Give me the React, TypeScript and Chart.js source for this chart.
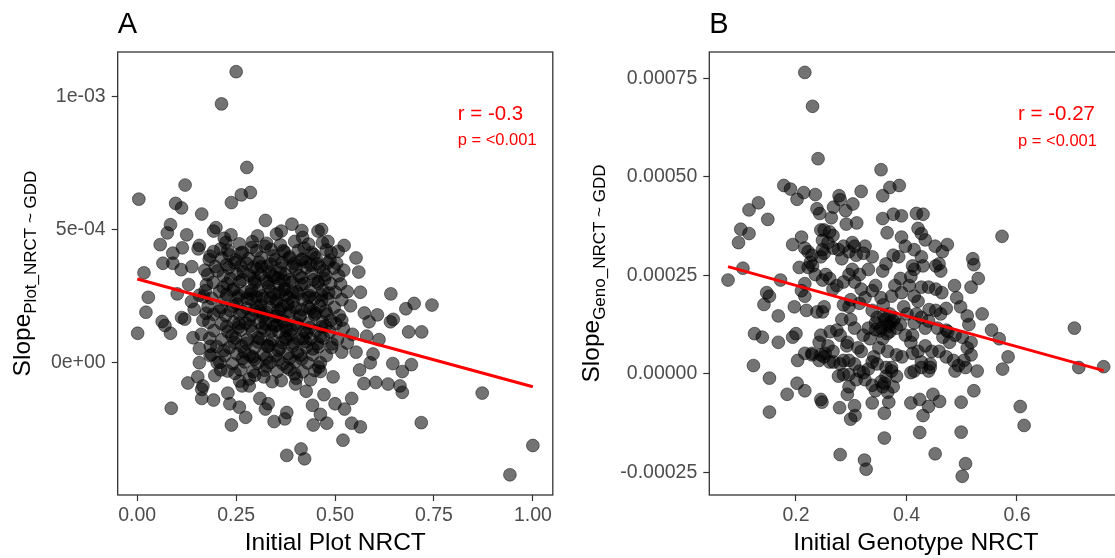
import React, { useEffect, useRef } from "react";
import { Chart, registerables } from "chart.js";
Chart.register(...registerables);

const FONT = '"Liberation Sans", Arial, Helvetica, sans-serif';
const Y_UNIT = 1e-4; // y values below are given in units of 1e-4

// ---------- Panel A : plot level (x = Initial Plot NRCT, y = slope x 1e4) ----------
const plotOuter: [number, number][] = [
  [0.250,10.94],[0.213,9.73],[0.277,7.34],[0.286,6.40],[0.263,6.31],[0.238,6.02],[0.004,6.15],[0.121,6.68],
  [0.097,5.99],[0.112,5.82],[0.163,5.59],[0.084,5.19],[0.076,4.88],[0.125,4.81],[0.199,5.08],[0.058,4.44],
  [0.114,4.32],[0.065,3.74],[0.090,4.12],[0.090,3.74],[0.111,3.50],[0.017,3.38],[0.028,2.46],[0.022,1.90],
  [0.001,1.11],[0.063,1.55],[0.070,1.40],[0.084,1.11],[0.101,2.59],[0.112,1.70],[0.120,1.64],[0.137,2.30],
  [0.141,0.94],[0.130,2.94],[0.138,3.61],[0.157,4.41],[0.154,4.28],[0.324,5.35],[0.364,4.95],[0.391,5.21],
  [0.416,4.97],[0.457,4.95],[0.466,5.01],[0.523,4.41],[0.553,3.94],[0.560,3.41],[0.564,2.65],[0.641,2.59],
  [0.700,2.23],[0.745,2.17],[0.679,2.03],[0.647,1.63],[0.640,1.54],[0.686,1.16],[0.719,1.16],[0.607,1.80],
  [0.586,1.54],[0.574,1.87],[0.611,0.87],[0.596,0.33],[0.646,-0.03],[0.670,-0.33],[0.693,-0.07],[0.664,-0.87],
  [0.670,-1.11],[0.634,-0.80],[0.603,-0.74],[0.573,-0.78],[0.562,-0.27],[0.872,-1.14],[0.718,-2.25],[1.000,-3.11],
  [0.942,-4.21],[0.564,-2.41],[0.542,-2.27],[0.520,-2.91],[0.542,-1.34],[0.524,-1.74],[0.500,-1.54],[0.479,-2.27],
  [0.463,-1.94],[0.445,-2.34],[0.443,-1.60],[0.423,-3.61],[0.414,-3.24],[0.378,-3.48],[0.373,-2.11],[0.378,-1.87],
  [0.346,-2.21],[0.324,-1.74],[0.331,-1.54],[0.310,-1.34],[0.274,-2.05],[0.258,-1.67],[0.238,-2.34],[0.234,-1.54],
  [0.229,-1.14],[0.193,-1.40],[0.163,-1.34],[0.163,-1.00],[0.153,-0.53],[0.128,-0.76],[0.166,-0.87],[0.086,-1.71],
  [0.157,0.00],[0.202,0.00],[0.265,-0.87],[0.283,-0.87],[0.297,-0.47],[0.320,-0.53],[0.364,-0.67],[0.400,-0.80],
  [0.427,-1.07],[0.472,-1.20],[0.495,-0.53],[0.463,-0.33],[0.517,0.40],[0.531,0.74],[0.553,0.40],[0.589,0.00],
  [0.580,1.00],[0.544,1.07],[0.517,1.60],[0.539,2.14],[0.531,2.67],[0.522,3.48],[0.504,3.74],[0.490,4.14],
  [0.193,4.95],[0.220,4.68],[0.211,4.28],[0.184,4.01],[0.171,3.48],[0.175,2.94],[0.157,2.54],[0.144,2.01],
  [0.166,1.60],[0.162,1.07],[0.157,0.53],[0.184,0.27],[0.211,-0.27],[0.247,-0.40]
];
const plotCore: [number, number][] = [
  [0.224,4.52],[0.258,4.47],[0.291,4.55],[0.327,4.49],[0.362,4.43],[0.398,4.56],[0.433,4.46],[0.468,4.51],
  [0.193,4.18],[0.229,4.23],[0.266,4.15],[0.302,4.21],[0.338,4.26],[0.372,4.17],[0.407,4.22],[0.441,4.14],[0.478,4.24],[0.508,4.19],
  [0.182,3.88],[0.214,3.93],[0.249,3.86],[0.281,3.91],[0.313,3.95],[0.349,3.87],[0.383,3.92],[0.418,3.89],[0.452,3.94],[0.487,3.85],
  [0.197,3.62],[0.231,3.57],[0.262,3.64],[0.294,3.59],[0.328,3.61],[0.361,3.55],[0.393,3.63],[0.427,3.58],[0.461,3.60],[0.497,3.56],
  [0.178,3.31],[0.218,3.27],[0.251,3.34],[0.283,3.29],[0.312,3.32],[0.343,3.26],[0.374,3.33],[0.409,3.28],[0.441,3.35],[0.476,3.30],[0.509,3.27],
  [0.192,3.02],[0.227,2.97],[0.259,3.04],[0.297,2.99],[0.329,3.01],[0.358,2.96],[0.391,3.03],[0.423,2.98],[0.457,3.05],[0.489,2.97],
  [0.172,2.71],[0.208,2.68],[0.241,2.73],[0.273,2.66],[0.306,2.72],[0.338,2.69],[0.371,2.74],[0.404,2.67],[0.437,2.70],[0.469,2.72],[0.501,2.65],
  [0.188,2.42],[0.221,2.37],[0.254,2.44],[0.287,2.39],[0.319,2.41],[0.352,2.36],[0.384,2.43],[0.418,2.38],[0.449,2.42],[0.482,2.40],[0.517,2.37],
  [0.179,2.11],[0.212,2.08],[0.243,2.13],[0.276,2.06],[0.302,2.12],[0.334,2.09],[0.368,2.14],[0.399,2.07],[0.431,2.10],[0.462,2.13],[0.498,2.08],
  [0.193,1.82],[0.224,1.77],[0.258,1.83],[0.289,1.79],[0.321,1.81],[0.353,1.76],[0.384,1.84],[0.412,1.78],[0.448,1.80],[0.479,1.83],[0.511,1.77],
  [0.181,1.52],[0.213,1.47],[0.244,1.53],[0.274,1.49],[0.308,1.51],[0.341,1.46],[0.372,1.54],[0.403,1.48],[0.434,1.50],[0.468,1.53],[0.502,1.47],
  [0.194,1.21],[0.229,1.17],[0.262,1.23],[0.291,1.18],[0.323,1.22],[0.358,1.16],[0.389,1.24],[0.421,1.19],[0.452,1.20],[0.487,1.17],
  [0.183,0.92],[0.214,0.87],[0.248,0.93],[0.279,0.88],[0.311,0.91],[0.342,0.86],[0.374,0.94],[0.407,0.89],[0.438,0.90],[0.471,0.93],[0.506,0.88],
  [0.201,0.61],[0.233,0.57],[0.264,0.63],[0.297,0.58],[0.329,0.62],[0.361,0.56],[0.393,0.64],[0.427,0.59],[0.458,0.60],[0.491,0.57],
  [0.188,0.31],[0.221,0.27],[0.252,0.33],[0.284,0.28],[0.318,0.32],[0.349,0.26],[0.381,0.34],[0.413,0.29],[0.444,0.30],[0.478,0.27],
  [0.209,0.02],[0.241,-0.03],[0.272,0.03],[0.304,-0.02],[0.336,0.01],[0.368,-0.04],[0.399,0.04],[0.431,-0.01],[0.463,0.00],
  [0.228,-0.31],[0.261,-0.27],[0.293,-0.33],[0.322,-0.28],[0.354,-0.32],[0.386,-0.26],[0.418,-0.34],[0.449,-0.29],
  [0.246,3.76],[0.277,3.73],[0.308,3.78],[0.337,3.71],[0.366,3.77],[0.396,3.74],[0.426,3.79],[0.455,3.72],
  [0.236,3.16],[0.266,3.13],[0.296,3.18],[0.326,3.11],[0.356,3.17],[0.386,3.14],[0.416,3.19],[0.446,3.12],[0.474,3.15],
  [0.226,2.56],[0.256,2.53],[0.286,2.58],[0.316,2.51],[0.346,2.57],[0.376,2.54],[0.406,2.59],[0.436,2.52],[0.466,2.55],
  [0.236,1.96],[0.266,1.93],[0.296,1.98],[0.326,1.91],[0.356,1.97],[0.386,1.94],[0.416,1.99],[0.446,1.92],[0.476,1.95],
  [0.226,1.36],[0.256,1.33],[0.286,1.38],[0.316,1.31],[0.346,1.37],[0.376,1.34],[0.406,1.39],[0.436,1.32],[0.466,1.35],
  [0.246,0.76],[0.276,0.73],[0.306,0.78],[0.336,0.71],[0.366,0.77],[0.396,0.74],[0.426,0.79],[0.456,0.72],
  [0.266,0.16],[0.296,0.13],[0.326,0.18],[0.356,0.11],[0.386,0.17],[0.416,0.14]
];
const plotCoreExtra: [number, number][] = [
  [0.203,3.45],[0.217,2.84],[0.233,4.05],[0.239,1.02],[0.252,2.21],[0.268,3.42],[0.271,0.41],[0.283,1.63],
  [0.289,4.33],[0.301,2.47],[0.305,0.94],[0.314,3.61],[0.318,1.73],[0.327,-0.12],[0.332,2.87],[0.339,1.19],
  [0.344,4.02],[0.351,2.28],[0.357,0.47],[0.362,3.39],[0.367,1.58],[0.373,2.79],[0.379,-0.18],[0.385,3.98],
  [0.388,1.05],[0.394,2.31],[0.401,3.52],[0.405,0.38],[0.411,1.72],[0.415,2.93],[0.422,4.31],[0.428,1.12],
  [0.433,2.46],[0.439,3.67],[0.444,0.52],[0.451,1.87],[0.457,2.99],[0.463,0.98],[0.471,3.45],[0.476,1.38],
  [0.484,2.62],[0.492,0.71],[0.207,1.94],[0.219,0.46],[0.226,3.68],[0.244,2.77],[0.257,1.48],[0.262,4.12],
  [0.278,2.42],[0.292,0.22],[0.297,3.07],[0.309,1.94],[0.323,4.38],[0.331,0.63],[0.347,3.22],[0.353,1.41],
  [0.369,4.21],[0.376,0.87],[0.392,2.66],[0.398,-0.42],[0.414,3.87],[0.419,0.91],[0.437,2.02],[0.447,4.06],
  [0.459,-0.16],[0.466,2.34],[0.482,3.76],[0.489,1.59],[0.514,2.96],[0.521,1.29],[0.174,1.86],[0.168,2.48],
  [0.185,0.62],[0.196,-0.48],[0.283,-0.61],[0.341,-0.71],[0.402,-0.58],[0.438,-0.64],[0.237,4.81],[0.304,4.77],
  [0.352,4.84],[0.418,4.71],[0.482,4.56],[0.259,-0.69],[0.311,2.16],[0.336,2.42],[0.363,2.02],[0.324,1.46],
  [0.349,1.74],[0.378,1.21],[0.289,2.73],[0.359,2.63],[0.381,2.19],[0.333,3.41],[0.302,3.52],[0.371,3.08]
];
const plotTrend: [number, number][] = [[0.0, 3.15], [1.0, -0.90]];
const plotXTicks = [0, 0.25, 0.5, 0.75, 1.0];
const plotXTickLabels = ["0.00", "0.25", "0.50", "0.75", "1.00"];
const plotYTicks = [0, 5, 10];
const plotYTickLabels = ["0e+00", "5e-04", "1e-03"];
const plotXRange = [-0.0494, 1.0504];
const plotYRange = [-4.97, 11.68];
const plotStats = { r: "r = -0.3", p: "p = <0.001", x: 0.81, rY: 9.14, pY: 8.17 };

// ---------- Panel B : genotype level ----------
const genoPoints: [number, number][] = [
  [0.216,7.65],[0.230,6.79],[0.240,5.46],[0.354,5.18],[0.178,4.78],[0.190,4.69],[0.202,4.43],[0.214,4.60],
  [0.235,4.55],[0.278,4.52],[0.280,4.42],[0.318,4.63],[0.357,4.52],[0.370,4.73],[0.387,4.78],[0.303,4.31],
  [0.268,4.23],[0.238,4.19],[0.243,4.07],[0.290,4.14],[0.132,4.34],[0.115,4.16],[0.149,3.92],[0.100,3.67],
  [0.115,3.56],[0.096,3.33],[0.104,2.68],[0.077,2.38],[0.172,2.38],[0.147,2.06],[0.152,1.97],[0.142,1.76],
  [0.168,1.47],[0.125,1.02],[0.139,0.93],[0.168,0.80],[0.123,0.21],[0.152,-0.11],[0.152,-0.97],[0.184,-0.52],
  [0.202,-0.24],[0.216,-0.43],[0.245,-0.65],[0.247,-0.72],[0.279,-0.86],[0.299,-1.15],[0.307,-1.06],[0.306,-0.81],
  [0.293,-0.52],[0.296,-0.33],[0.280,-2.05],[0.324,-2.19],[0.327,-2.42],[0.360,-1.63],[0.360,-1.00],[0.338,-0.74],
  [0.344,-0.43],[0.360,-0.24],[0.368,-0.72],[0.376,-0.33],[0.382,-0.06],[0.408,0.03],[0.408,-0.74],[0.424,-0.65],
  [0.440,-0.83],[0.430,-1.06],[0.424,-1.49],[0.452,-2.03],[0.460,-0.70],[0.448,-0.52],[0.499,-0.72],[0.499,-1.48],
  [0.507,-2.28],[0.501,-2.60],[0.522,-0.43],[0.528,0.07],[0.574,0.12],[0.584,0.43],[0.606,-0.83],[0.613,-1.31],
  [0.704,1.16],[0.712,0.16],[0.757,0.18],[0.573,3.49],[0.568,0.89],[0.554,1.11],[0.537,1.52],[0.530,2.42],
  [0.517,2.20],[0.520,2.92],[0.522,2.77],[0.487,2.24],[0.491,1.93],[0.498,1.70],[0.510,1.47],[0.513,1.25],
  [0.517,0.80],[0.517,0.48],[0.504,0.34],[0.488,0.07],[0.485,0.34],[0.472,0.43],[0.459,0.57],[0.443,0.25],
  [0.427,0.16],[0.434,0.71],[0.411,0.52],[0.411,0.98],[0.408,0.80],[0.434,1.16],[0.456,1.16],[0.472,1.11],
  [0.478,0.80],[0.472,1.66],[0.462,1.52],[0.453,1.61],[0.441,1.63],[0.440,2.20],[0.453,2.15],[0.464,2.06],
  [0.453,2.74],[0.462,2.61],[0.459,2.79],[0.452,3.24],[0.465,3.10],[0.474,3.28],[0.434,3.40],[0.427,3.56],
  [0.421,3.69],[0.418,4.07],[0.430,4.05],[0.391,4.01],[0.376,4.05],[0.357,3.94],[0.365,3.58],[0.391,3.47],
  [0.398,3.24],[0.386,2.97],[0.376,3.01],[0.414,3.15],[0.427,2.97],[0.411,2.74],[0.430,2.74],[0.405,2.24],
  [0.414,1.97],[0.421,1.84],[0.427,2.20],[0.389,2.42],[0.379,2.24],[0.373,1.97],[0.363,2.79],[0.357,2.61],
  [0.354,1.93],[0.358,1.75],[0.370,1.52],[0.366,1.25],[0.376,1.34],[0.382,1.16],[0.370,1.07],[0.357,0.89],
  [0.354,1.16],[0.347,1.43],[0.338,1.61],[0.344,1.29],[0.331,1.16],[0.334,0.89],[0.350,0.66],[0.341,0.43],
  [0.347,0.25],[0.366,0.57],[0.382,0.48],[0.373,0.16],[0.338,0.30],[0.325,-0.15],[0.315,0.07],[0.306,0.25],
  [0.296,0.34],[0.286,0.34],[0.268,0.30],[0.277,-0.06],[0.293,0.80],[0.292,0.71],[0.312,0.66],[0.318,0.57],
  [0.322,0.98],[0.306,1.16],[0.299,1.38],[0.283,1.38],[0.280,0.98],[0.274,1.11],[0.262,1.07],[0.258,0.71],
  [0.253,0.52],[0.242,0.34],[0.229,0.48],[0.245,0.98],[0.242,0.80],[0.267,0.57],[0.315,1.79],[0.325,1.93],
  [0.338,2.11],[0.318,2.15],[0.306,2.33],[0.315,2.52],[0.302,2.65],[0.296,2.52],[0.286,2.33],[0.286,1.75],
  [0.274,2.24],[0.267,2.15],[0.261,2.42],[0.254,2.52],[0.248,2.38],[0.251,1.70],[0.248,1.57],[0.238,1.57],
  [0.219,1.61],[0.197,1.70],[0.194,0.93],[0.200,1.02],[0.203,0.34],[0.229,0.52],[0.216,1.97],[0.210,2.11],
  [0.216,2.29],[0.206,2.70],[0.222,2.70],[0.230,2.74],[0.235,2.52],[0.245,2.97],[0.248,3.15],[0.251,3.06],
  [0.258,3.33],[0.267,3.51],[0.261,3.60],[0.251,3.65],[0.267,3.19],[0.277,3.15],[0.283,2.92],[0.286,3.24],
  [0.296,3.10],[0.302,3.33],[0.306,3.24],[0.309,3.01],[0.322,3.06],[0.325,3.24],[0.338,2.97],[0.194,3.28],
  [0.210,3.47],[0.216,3.19],[0.222,3.10],[0.229,3.01],[0.226,2.83],[0.245,3.65],[0.264,3.96],[0.291,3.80],
  [0.310,3.83],[0.248,3.39],[0.299,1.88],[0.296,1.70],[0.331,2.65],[0.344,2.24],[0.391,2.06],[0.395,1.70],
  [0.401,1.52],[0.389,1.25],[0.398,0.98],[0.414,1.29],[0.427,1.43],[0.440,1.34],[0.418,1.52],[0.414,2.65],
  [0.408,2.47],[0.466,0.93],[0.475,1.07],[0.488,0.98],[0.501,0.93],[0.510,0.66],[0.507,0.16],[0.494,0.21],
  [0.443,0.16],[0.427,0.30],[0.421,0.57],[0.446,0.57],[0.440,0.07],[0.414,0.07],[0.392,0.43],[0.373,0.07],
  [0.363,-0.06],[0.363,0.16],[0.354,-0.20],[0.357,-0.33],[0.366,-0.47],[0.338,-0.29],[0.309,-0.15],[0.296,-0.02],
  [0.322,0.03],[0.331,0.12],[0.286,-0.02],[0.280,0.25],[0.261,0.30],[0.251,0.43],[0.245,0.48],[0.216,0.52],
  [0.361,1.38],[0.368,1.21],[0.352,1.09],[0.371,1.31],[0.359,1.47],[0.344,1.12],[0.379,1.42],[0.365,1.02]
];
const genoTrend: [number, number][] = [[0.077, 2.72], [0.757, 0.08]];
const genoXTicks = [0.2, 0.4, 0.6];
const genoXTickLabels = ["0.2", "0.4", "0.6"];
const genoYTicks = [-2.5, 0, 2.5, 5, 7.5];
const genoYTickLabels = ["-0.00025", "0.00000", "0.00025", "0.00050", "0.00075"];
const genoXRange = [0.0431, 0.7911];
const genoYRange = [-3.076, 8.168];
const genoStats = { r: "r = -0.27", p: "p = <0.001", x: 0.602, rY: 6.45, pY: 5.79 };

type PanelSpec = {
  tag: string;
  xTitle: string;
  ySub: string;
  points: [number, number][][];
  trend: [number, number][];
  xTicks: number[]; xLabels: string[];
  yTicks: number[]; yLabels: string[];
  xRange: number[]; yRange: number[];
  stats: { r: string; p: string; x: number; rY: number; pY: number };
  canvasWidth: number;
  yAxisWidth: number;
  padRight: number;
  yTitleX: number;
};

const toXY = (arr: [number, number][]) => arr.map(([x, y]) => ({ x, y: y * Y_UNIT }));

function buildConfig(s: PanelSpec): any {
  const decor = {
    id: "decor",
    afterDraw(chart: any) {
      const { ctx, chartArea: ca, scales } = chart;
      ctx.save();
      ctx.strokeStyle = "#333333";
      ctx.lineWidth = 1.3;
      ctx.strokeRect(ca.left, ca.top, ca.right - ca.left, ca.bottom - ca.top);
      ctx.fillStyle = "#000000";
      ctx.textBaseline = "alphabetic";
      ctx.textAlign = "left";
      ctx.font = `29px ${FONT}`;
      ctx.fillText(s.tag, ca.left, 33);
      ctx.textAlign = "center";
      ctx.font = `24.5px ${FONT}`;
      ctx.fillText(s.xTitle, (ca.left + ca.right) / 2, 550);
      // y title with subscript
      ctx.save();
      ctx.translate(s.yTitleX, (ca.top + ca.bottom) / 2);
      ctx.rotate(-Math.PI / 2);
      ctx.textAlign = "left";
      const mainFont = `24.5px ${FONT}`;
      const subFont = `17px ${FONT}`;
      ctx.font = mainFont;
      const w1 = ctx.measureText("Slope").width;
      ctx.font = subFont;
      const w2 = ctx.measureText(s.ySub).width;
      const start = -(w1 + w2) / 2;
      ctx.font = mainFont;
      ctx.fillText("Slope", start, 0);
      ctx.font = subFont;
      ctx.fillText(s.ySub, start + w1, 6);
      ctx.restore();
      // stats
      ctx.fillStyle = "#FF0000";
      ctx.textAlign = "left";
      const sx = scales.x.getPixelForValue(s.stats.x);
      ctx.font = `20.5px ${FONT}`;
      ctx.fillText(s.stats.r, sx, scales.y.getPixelForValue(s.stats.rY * Y_UNIT));
      ctx.font = `16.5px ${FONT}`;
      ctx.fillText(s.stats.p, sx, scales.y.getPixelForValue(s.stats.pY * Y_UNIT));
      ctx.restore();
    },
  };

  const pointDatasets = s.points.map((pts) => ({
    data: toXY(pts),
    showLine: false,
    pointRadius: 6.4,
    pointBackgroundColor: "rgba(0,0,0,0.55)",
    pointBorderColor: "rgba(0,0,0,0.6)",
    pointBorderWidth: 0.8,
    order: 1,
  }));

  const tickFont = { family: FONT, size: 19.5 };
  const grid = {
    drawOnChartArea: false,
    drawTicks: true,
    tickLength: 6,
    color: "#333333",
    tickColor: "#333333",
    tickWidth: 1.2,
  };

  return {
    type: "scatter",
    data: {
      datasets: [
        {
          data: toXY(s.trend),
          showLine: true,
          borderColor: "#FF0000",
          borderWidth: 3,
          pointRadius: 0,
          fill: false,
          order: 0,
        },
        ...pointDatasets,
      ],
    },
    options: {
      responsive: false,
      animation: false,
      events: [],
      layout: { padding: { left: 0, top: 52, right: s.padRight, bottom: 0 } },
      plugins: { legend: { display: false }, tooltip: { enabled: false }, title: { display: false } },
      scales: {
        x: {
          type: "linear",
          position: "bottom",
          min: s.xRange[0],
          max: s.xRange[1],
          afterBuildTicks: (sc: any) => { sc.ticks = s.xTicks.map((v) => ({ value: v })); },
          afterFit: (sc: any) => { sc.height = 63; },
          ticks: {
            callback: (_v: any, i: number) => s.xLabels[i],
            font: tickFont,
            color: "#4d4d4d",
            padding: 3,
            maxRotation: 0,
            autoSkip: false,
          },
          grid,
          border: { display: false },
        },
        y: {
          type: "linear",
          position: "left",
          min: s.yRange[0] * Y_UNIT,
          max: s.yRange[1] * Y_UNIT,
          afterBuildTicks: (sc: any) => { sc.ticks = s.yTicks.map((v) => ({ value: v * Y_UNIT })); },
          afterFit: (sc: any) => { sc.width = s.yAxisWidth; },
          ticks: {
            callback: (_v: any, i: number) => s.yLabels[i],
            font: tickFont,
            color: "#4d4d4d",
            padding: 6,
            autoSkip: false,
          },
          grid,
          border: { display: false },
        },
      },
    },
    plugins: [decor],
  };
}

const panelA: PanelSpec = {
  tag: "A",
  xTitle: "Initial Plot NRCT",
  ySub: "Plot_NRCT ~ GDD",
  points: [plotOuter, plotCore, plotCoreExtra],
  trend: plotTrend,
  xTicks: plotXTicks, xLabels: plotXTickLabels,
  yTicks: plotYTicks, yLabels: plotYTickLabels,
  xRange: plotXRange, yRange: plotYRange,
  stats: plotStats,
  canvasWidth: 560,
  yAxisWidth: 117.7,
  padRight: 5.7,
  yTitleX: 30,
};

const panelB: PanelSpec = {
  tag: "B",
  xTitle: "Initial Genotype NRCT",
  ySub: "Geno_NRCT ~ GDD",
  points: [genoPoints],
  trend: genoTrend,
  xTicks: genoXTicks, xLabels: genoXTickLabels,
  yTicks: genoYTicks, yLabels: genoYTickLabels,
  xRange: genoXRange, yRange: genoYRange,
  stats: genoStats,
  canvasWidth: 570,
  yAxisWidth: 149.3,
  padRight: 7.5,
  yTitleX: 38.5,
};

function Panel({ spec, left }: { spec: PanelSpec; left: number }) {
  const ref = useRef<HTMLCanvasElement>(null);
  useEffect(() => {
    const chart = new Chart(ref.current as HTMLCanvasElement, buildConfig(spec));
    return () => chart.destroy();
  }, [spec]);
  return (
    <canvas
      ref={ref}
      width={spec.canvasWidth}
      height={558}
      style={{ position: "absolute", left, top: 0, width: spec.canvasWidth, height: 558 }}
    />
  );
}

export default function App() {
  return (
    <div
      style={{
        position: "fixed",
        left: 0,
        top: 0,
        width: 1115,
        height: 558,
        overflow: "hidden",
        background: "#ffffff",
      }}
    >
      <Panel spec={panelA} left={0} />
      <Panel spec={panelB} left={560} />
    </div>
  );
}
